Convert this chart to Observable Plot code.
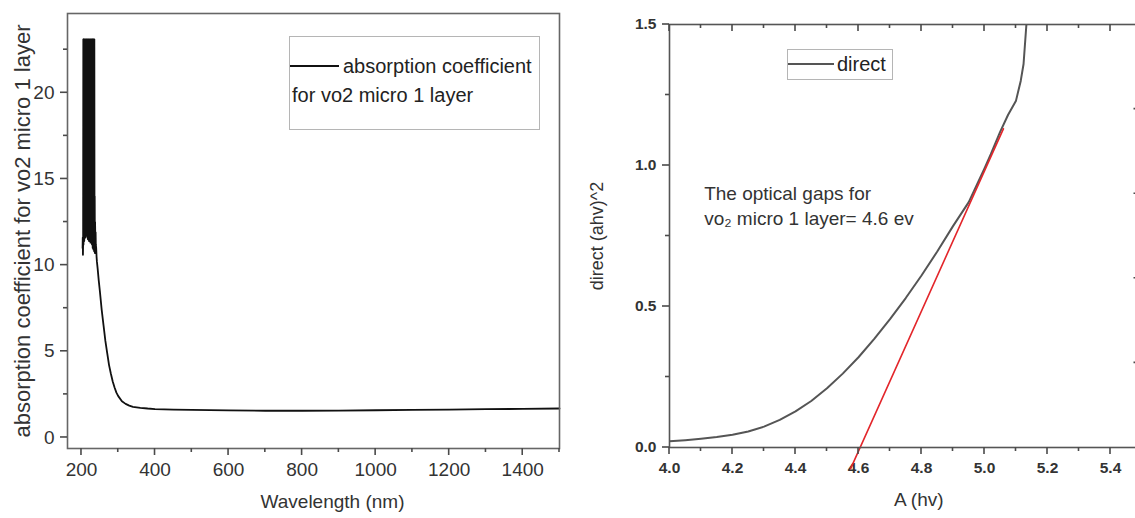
<!DOCTYPE html>
<html>
<head>
<meta charset="utf-8">
<script src="https://cdn.jsdelivr.net/npm/d3@7"></script>
<script src="https://cdn.jsdelivr.net/npm/@observablehq/plot@0.6"></script>
<style>
  html, body { margin: 0; padding: 0; background: #fff; }
  #wrap { position: relative; width: 1135px; height: 518px; overflow: hidden; background: #fff;
          font-family: "Liberation Sans", Arial, sans-serif; }
  #wrap svg { position: absolute; top: 0; overflow: visible; }
  .legend { position: absolute; border: 1px solid #b5b5b5; background: #fff; color: #222; }
  .legend .ln { position: absolute; height: 0; }
  .legend .tx { position: absolute; white-space: nowrap; line-height: 1; }
</style>
</head>
<body>
<div id="wrap"></div>
<script>
// ---------- Left panel data: absorption coefficient vs wavelength ----------
const wavelength = [
  203, 203.5, 204, 204.5, 205, 205.5, 206, 206.5, 207, 207.5, 208, 208.5, 209, 209.5, 210, 210.5,
  211, 211.5, 212, 212.5, 213, 213.5, 214, 214.5, 215, 215.5, 216, 216.5, 217, 217.5, 218, 218.5,
  219, 219.5, 220, 220.5, 221, 221.5, 222, 222.5, 223, 223.5, 224, 224.5, 225, 225.5, 226, 226.5,
  227, 227.5, 228, 228.5, 229, 229.5, 230, 230.5, 231, 231.5, 232, 232.5, 233, 233.5, 234, 234.5,
  235, 235.5, 236, 236.5, 237, 237.5, 238, 238.5, 239, 240, 241, 242, 244, 247, 250, 255, 260, 265,
  270, 275, 280, 285, 290, 295, 300, 310, 320, 330, 340, 360, 380, 400, 450, 500, 600, 700, 800,
  900, 1000, 1100, 1200, 1300, 1400, 1500
];
const absorption = [
  11.0, 11.6, 10.6, 11.3, 23.1, 11.2, 23.1, 12.0, 23.1, 11.4, 22.8, 12.2, 23.1, 11.8, 23.1, 12.4,
  23.0, 11.6, 23.1, 12.1, 18.0, 11.9, 23.1, 12.3, 23.1, 11.7, 22.9, 12.0, 23.1, 11.5, 23.1, 12.2,
  21.5, 11.8, 23.1, 11.4, 23.1, 12.0, 23.0, 11.6, 23.1, 11.9, 17.5, 11.3, 23.1, 11.8, 23.1, 11.5,
  22.7, 12.0, 23.1, 11.2, 23.1, 11.7, 23.1, 11.0, 22.9, 11.6, 23.1, 10.9, 23.1, 11.4, 23.0, 10.8,
  23.1, 11.5, 14.0, 10.7, 12.5, 11.8, 10.9, 11.9, 11.2, 11.0, 10.5, 10.2, 9.8, 9.1, 8.5, 7.4, 6.5, 5.6,
  4.9, 4.2, 3.7, 3.25, 2.9, 2.6, 2.4, 2.1, 1.95, 1.85, 1.78, 1.72, 1.68, 1.65, 1.62, 1.6, 1.57, 1.55, 1.55,
  1.56, 1.58, 1.6, 1.62, 1.64, 1.66, 1.68
];
const leftXMajor = [200, 400, 600, 800, 1000, 1200, 1400];
const leftXMinor = [300, 500, 700, 900, 1100, 1300, 1500];
const leftYMajor = [0, 5, 10, 15, 20];
const leftYMinor = [2.5, 7.5, 12.5, 17.5, 22.5];

// ---------- Right panel data: direct (ahv)^2 vs photon energy ----------
const energy = [4.0, 4.05, 4.1, 4.15, 4.2, 4.25, 4.3, 4.35, 4.4, 4.45, 4.5, 4.55, 4.6, 4.65, 4.7, 4.75,
  4.8, 4.85, 4.9, 4.95, 5.0, 5.02, 5.05, 5.075, 5.1, 5.115, 5.124, 5.133, 5.14];
const direct = [0.022, 0.026, 0.031, 0.037, 0.045, 0.057, 0.074, 0.098, 0.128, 0.165, 0.21, 0.262, 0.32,
  0.385, 0.455, 0.53, 0.61, 0.695, 0.785, 0.87, 0.99, 1.04, 1.12, 1.18, 1.23, 1.30, 1.36, 1.5, 1.65];
const fitX = [4.575, 5.06];
const fitY = [-0.075, 1.13];
const rightXMajor = [4.0, 4.2, 4.4, 4.6, 4.8, 5.0, 5.2, 5.4];
const rightXMinor = [4.1, 4.3, 4.5, 4.7, 4.9, 5.1, 5.3, 5.5];
const rightYMajor = [0, 0.5, 1.0, 1.5];
const rightYMinor = [0.25, 0.75, 1.25];
const rightEdgeTicks = [0.3, 0.6, 0.9, 1.2];

const FONT = "'Liberation Sans', Arial, sans-serif";
const wrap = document.getElementById("wrap");
const TICK = "#4a4a4a";
const TW = 1.6;

// Tick marks, positioned through each plot's own x / y scales
function getScale(svg, name, domain, range) {
  const s = svg.scale ? svg.scale(name) : null;
  if (s && s.apply) return v => s.apply(v);
  const f = d3.scaleLinear(domain, range);
  return v => f(v);
}
function tickLinesX(svg, sx, vals, yEdge, len) { // len > 0: downward
  d3.select(svg).append("g").attr("stroke", TICK).attr("stroke-width", TW)
    .selectAll("line").data(vals).join("line")
    .attr("x1", d => sx(d)).attr("x2", d => sx(d))
    .attr("y1", yEdge).attr("y2", yEdge + len);
}
function tickLinesY(svg, sy, vals, xEdge, len) { // len < 0: leftward
  d3.select(svg).append("g").attr("stroke", TICK).attr("stroke-width", TW)
    .selectAll("line").data(vals).join("line")
    .attr("y1", d => sy(d)).attr("y2", d => sy(d))
    .attr("x1", xEdge).attr("x2", xEdge + len);
}

// ---------- Left plot ----------
const L = {w: 580, h: 518, ml: 67, mr: 21, mt: 13, mb: 70};
const LXD = [162, 1500], LYD = [-0.64, 24.6];
const left = Plot.plot({
  width: L.w, height: L.h,
  marginLeft: L.ml, marginRight: L.mr, marginTop: L.mt, marginBottom: L.mb,
  style: {fontFamily: FONT, fontSize: "19px", color: "#333", background: "transparent", overflow: "visible"},
  x: {domain: LXD},
  y: {domain: LYD},
  marks: [
    Plot.axisX({ticks: leftXMajor, tickSize: 0, tickPadding: 14, tickFormat: d3.format("d"), label: null, fill: "#333", fontSize: 19}),
    Plot.axisY({ticks: leftYMajor, tickSize: 0, tickPadding: 13, label: null, fill: "#333", fontSize: 19}),
    Plot.line(wavelength, {x: wavelength, y: absorption, stroke: "#111", strokeWidth: 1.8, curve: "linear"}),
    Plot.frame({stroke: "#666", strokeWidth: 1.6}),
    Plot.text(["Wavelength (nm)"], {frameAnchor: "bottom", dx: 19, dy: 59, fontSize: 19, fill: "#333", text: d => d}),
    Plot.text(["absorption coefficient for vo2 micro 1 layer"], {frameAnchor: "left", textAnchor: "middle", dx: -45, rotate: -90, fontSize: 22, fill: "#333", text: d => d})
  ]
});
left.style.left = "0px";
wrap.appendChild(left);
{
  const sx = getScale(left, "x", LXD, [L.ml, L.w - L.mr]);
  const sy = getScale(left, "y", LYD, [L.h - L.mb, L.mt]);
  const bottom = L.h - L.mb, lft = L.ml;
  tickLinesX(left, sx, leftXMajor, bottom, 7);
  tickLinesX(left, sx, leftXMinor, bottom, 4);
  tickLinesY(left, sy, leftYMajor, lft, -7);
  tickLinesY(left, sy, leftYMinor, lft, -4);
}

// ---------- Right plot ----------
const R = {w: 580, h: 518, ml: 89, mr: 18.5, mt: 24, mb: 71};
const RXD = [4.0, 5.5], RYD = [0, 1.5];
const right = Plot.plot({
  width: R.w, height: R.h,
  marginLeft: R.ml, marginRight: R.mr, marginTop: R.mt, marginBottom: R.mb,
  style: {fontFamily: FONT, fontSize: "15.5px", color: "#333", background: "transparent", overflow: "visible"},
  x: {domain: RXD},
  y: {domain: RYD},
  marks: [
    Plot.axisX({ticks: rightXMajor, tickSize: 0, tickPadding: 14, tickFormat: d3.format(".1f"), label: null, fill: "#333", fontWeight: "bold"}),
    Plot.axisY({ticks: rightYMajor, tickSize: 0, tickPadding: 13, tickFormat: d3.format(".1f"), label: null, fill: "#333", fontWeight: "bold"}),
    Plot.line(energy, {x: energy, y: direct, stroke: "#555", strokeWidth: 2, clip: true}),
    Plot.line(fitX, {x: fitX, y: fitY, stroke: "#e3262b", strokeWidth: 1.6}),
    Plot.frame({stroke: "#555", strokeWidth: 1.6}),
    Plot.text(["The optical gaps for"], {x: 4.11, y: 1.0, dy: 28, textAnchor: "start", fontSize: 19, fill: "#333", text: d => d}),
    Plot.text(["vo\u2082 micro 1 layer= 4.6 ev"], {x: 4.11, y: 1.0, dy: 53, textAnchor: "start", fontSize: 19, fill: "#333", text: d => d}),
    Plot.text(["A (hv)"], {frameAnchor: "bottom", dx: 13, dy: 58, fontSize: 19, fill: "#333", text: d => d}),
    Plot.text(["direct (ahv)^2"], {frameAnchor: "left", textAnchor: "middle", dx: -72, rotate: -90, fontSize: 18, fill: "#333", text: d => d})
  ]
});
right.style.left = "580px";
wrap.appendChild(right);
{
  const sx = getScale(right, "x", RXD, [R.ml, R.w - R.mr]);
  const sy = getScale(right, "y", RYD, [R.h - R.mb, R.mt]);
  const bottom = R.h - R.mb, top = R.mt, lft = R.ml, rgt = R.w - R.mr;
  tickLinesX(right, sx, rightXMajor, bottom, 7);
  tickLinesX(right, sx, rightXMinor, bottom, 4);
  tickLinesX(right, sx, rightXMajor, top, 7);
  tickLinesX(right, sx, rightXMinor, top, 4);
  tickLinesY(right, sy, rightYMajor, lft, -7);
  tickLinesY(right, sy, rightYMinor, lft, -4);
  tickLinesY(right, sy, rightEdgeTicks, rgt, -8);
}

// ---------- Legends (HTML boxes) ----------
function legend(box, lineSpec, texts) {
  const div = document.createElement("div");
  div.className = "legend";
  Object.assign(div.style, {left: box.x + "px", top: box.y + "px", width: box.w + "px", height: box.h + "px"});
  const ln = document.createElement("div");
  ln.className = "ln";
  Object.assign(ln.style, {left: "0px", top: lineSpec.y + "px", width: lineSpec.w + "px", borderTop: lineSpec.sw + "px solid " + lineSpec.color});
  div.appendChild(ln);
  for (const t of texts) {
    const s = document.createElement("div");
    s.className = "tx";
    s.textContent = t.text;
    Object.assign(s.style, {left: t.x + "px", top: t.y + "px", fontSize: t.size + "px"});
    div.appendChild(s);
  }
  wrap.appendChild(div);
}
legend({x: 289, y: 36, w: 249, h: 92}, {y: 28, w: 49, sw: 2, color: "#111"},
  [{text: "absorption coefficient", x: 53, y: 19, size: 20}, {text: "for vo2 micro 1 layer", x: 2, y: 48, size: 20}]);
legend({x: 787, y: 49, w: 104, h: 29}, {y: 13, w: 46, sw: 2, color: "#555"},
  [{text: "direct", x: 49, y: 4, size: 20}]);
</script>
</body>
</html>
